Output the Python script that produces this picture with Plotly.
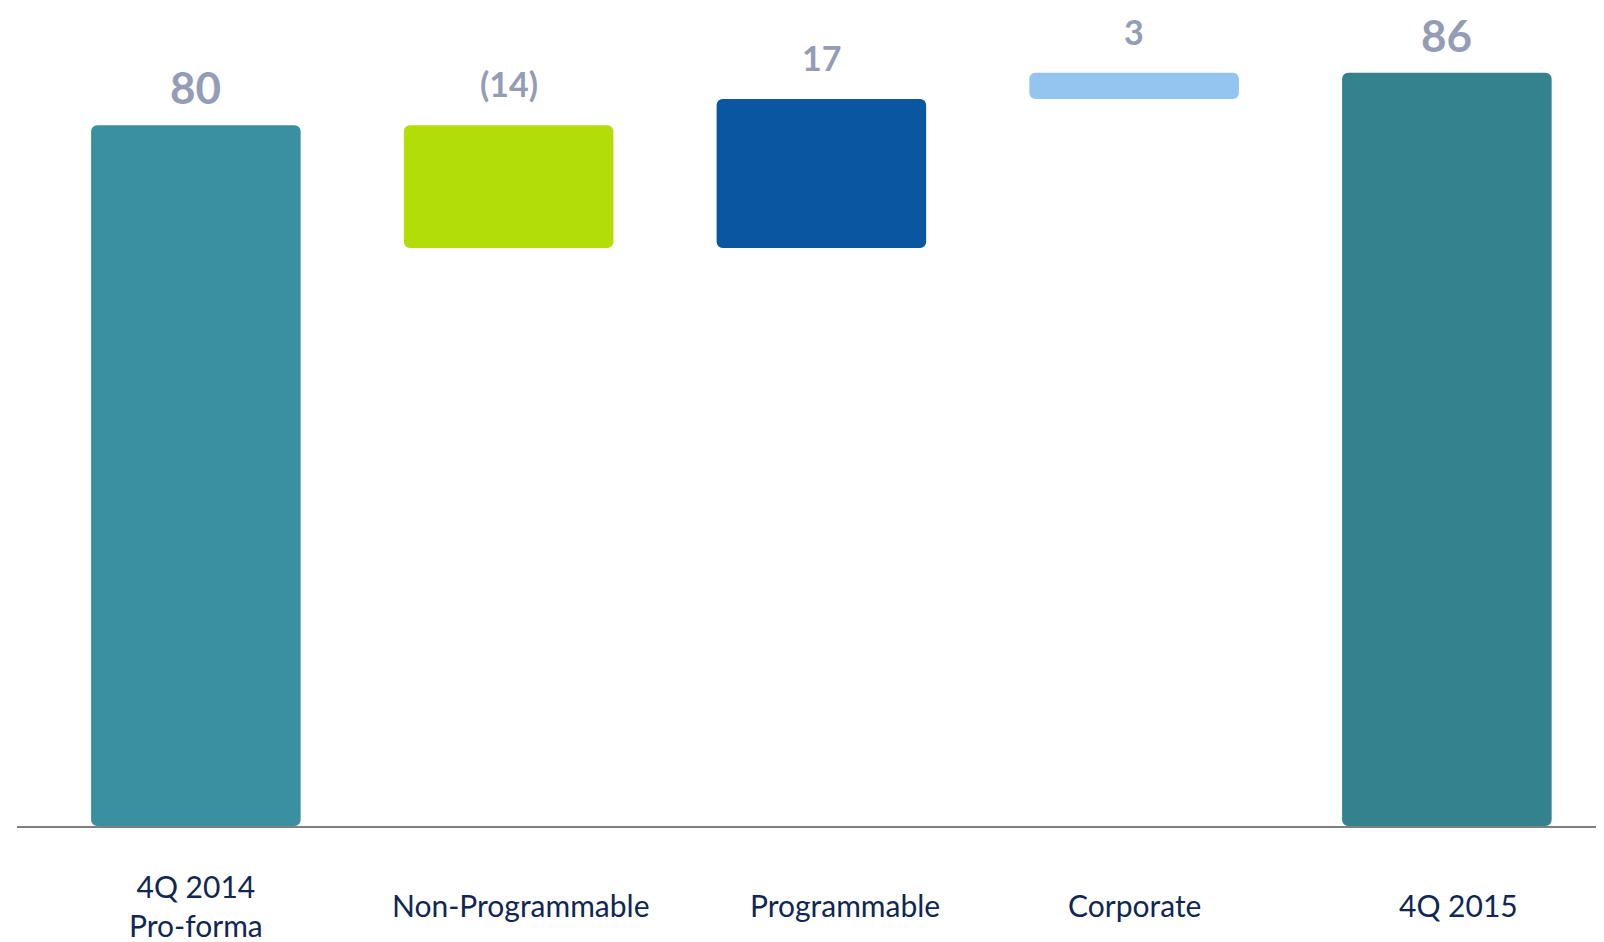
import plotly.graph_objects as go

# ---- data ----
categories = ["4Q 2014<br>Pro-forma", "Non-Programmable", "Programmable", "Corporate", "4Q 2015"]
values = [80, -14, 17, 3, 86]
value_labels = ["80", "(14)", "17", "3", "86"]
measures = ["total", "relative", "relative", "relative", "total"]
bar_colors = ["#3a8fa1", "#b3dd08", "#0b56a0", "#94c4f0", "#35828f"]

# style: small horizontal nudges of category captions (pixels)
caption_nudge = [0, 12, 24, 0, 12]

# ---- waterfall geometry from data ----
bases, heights, tops = [], [], []
running = 0
for v, m in zip(values, measures):
    if m == "total":
        bases.append(0)
        heights.append(v)
        running = v
    else:
        bases.append(running)
        heights.append(v)
        running += v
    tops.append(max(bases[-1], bases[-1] + heights[-1]))

fig = go.Figure()
fig.add_trace(go.Bar(
    x=categories, y=heights, base=bases,
    marker=dict(color=bar_colors, line=dict(width=0)),
    width=0.67, hoverinfo="skip", showlegend=False,
))

annotations = []
for i, (c, t, lab, m) in enumerate(zip(categories, tops, value_labels, measures)):
    size = 44 if m == "total" else 34
    annotations.append(dict(
        x=c, y=t, xref="x", yref="y", text="<b>%s</b>" % lab,
        showarrow=False, yanchor="bottom", yshift=11 if m == "total" else 20,
        borderpad=0,
        font=dict(family="Lato", size=size, color="#949cb6"),
    ))
    annotations.append(dict(
        x=c, y=0, xref="x", yref="y", text=c,
        showarrow=False, yanchor="middle", yshift=-79, xshift=caption_nudge[i],
        font=dict(family="Lato", size=30, color="#0f2752"),
    ))

fig.update_layout(
    width=1604, height=942,
    margin=dict(l=9, r=0, t=0, b=124),
    paper_bgcolor="white", plot_bgcolor="white",
    barcornerradius=6,
    annotations=annotations,
    xaxis=dict(
        range=[-0.572, 4.528], showticklabels=False, ticks="",
        showline=True, linecolor="#7f7f7f", linewidth=2, showgrid=False, zeroline=False,
    ),
    yaxis=dict(range=[0, 93.4], visible=False, showgrid=False, zeroline=False),
)

fig.write_html("out.html")
